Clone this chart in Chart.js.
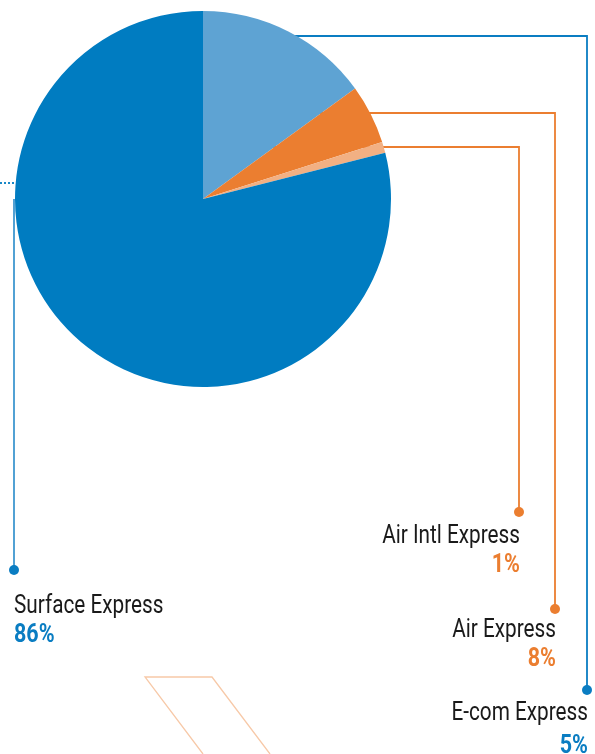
<!DOCTYPE html>
<html>
<head>
<meta charset="utf-8">
<script src="https://cdn.jsdelivr.net/npm/chart.js@4.4.1/dist/chart.umd.min.js"></script>
<style>
  html, body { margin: 0; padding: 0; background: #fff; }
  #chart { display: block; }
</style>
</head>
<body>
<canvas id="chart" width="595" height="754"></canvas>
<script>
// slices clockwise from 12 o'clock
const categories = ["E-com Express", "Air Express", "Air Intl Express", "Surface Express"];
const shares = [15, 5.1, 0.95, 78.95]; // slice sizes as drawn
const shareLabels = ["5%", "8%", "1%", "86%"]; // printed labels
const sliceColors = ["#5ea3d3", "#eb7e30", "#f2b083", "#007cc1"];
const textColors = ["#0a7dc2", "#eb7e30", "#eb7e30", "#0a7dc2"];
const lineColors = ["#0a7dc2", "#eb7e30", "#eb7e30", "#3f97d0"];

const fontName = 'Roboto, "Noto Sans", sans-serif';

// callout placement for each category
const callouts = [
  { lineY: 36, lineX: 587, dotY: 690, textX: 588, align: "right", nameY: 720, pctY: 753 },
  { lineY: 113, lineX: 555, dotY: 609, textX: 556, align: "right", nameY: 637, pctY: 666 },
  { lineY: 147, lineX: 519, dotY: 512, textX: 520, align: "right", nameY: 543, pctY: 572 },
  { lineY: 183, lineX: 14, dotY: 570, textX: 14, align: "left", nameY: 613, pctY: 642 }
];

// narrow the text a bit, the original uses a condensed face
const squeezeText = (ctx, text, x, y, sx) => {
  ctx.save();
  ctx.translate(x, y);
  ctx.scale(sx, 1);
  ctx.fillText(text, 0, 0);
  ctx.restore();
};

const calloutPlugin = {
  id: "callouts",
  beforeDatasetsDraw(chart) {
    const ctx = chart.ctx;
    const arc = chart.getDatasetMeta(0).data[0];
    const cx = arc.x, cy = arc.y;
    ctx.save();
    ctx.lineWidth = 1.8;
    callouts.forEach((c, i) => {
      ctx.strokeStyle = lineColors[i];
      if (c.align === "right") {
        ctx.beginPath();
        ctx.moveTo(cx, c.lineY);
        ctx.lineTo(c.lineX, c.lineY);
        ctx.lineTo(c.lineX, c.dotY);
        ctx.stroke();
      } else {
        // dotted stub from the left edge, then a drop line
        ctx.setLineDash([2, 2]);
        ctx.strokeStyle = sliceColors[i];
        ctx.beginPath();
        ctx.moveTo(0, c.lineY);
        ctx.lineTo(cx, c.lineY);
        ctx.stroke();
        ctx.setLineDash([]);
        ctx.strokeStyle = lineColors[i];
        ctx.beginPath();
        ctx.moveTo(c.lineX, cy);
        ctx.lineTo(c.lineX, c.dotY);
        ctx.stroke();
      }
    });
    ctx.restore();
  },
  afterDatasetsDraw(chart) {
    const ctx = chart.ctx;
    ctx.save();
    // decorative outline at the bottom
    ctx.strokeStyle = "#f7c9a8";
    ctx.lineWidth = 1.3;
    ctx.beginPath();
    ctx.moveTo(203, 754);
    ctx.lineTo(145, 677);
    ctx.lineTo(212, 677);
    ctx.lineTo(270, 754);
    ctx.stroke();

    callouts.forEach((c, i) => {
      ctx.fillStyle = textColors[i];
      ctx.beginPath();
      ctx.arc(c.lineX, c.dotY, 5, 0, Math.PI * 2);
      ctx.fill();

      ctx.textAlign = c.align;
      ctx.textBaseline = "alphabetic";
      ctx.fillStyle = "#1a1a1a";
      ctx.font = "25px " + fontName;
      squeezeText(ctx, categories[i], c.textX, c.nameY, 0.83);
      ctx.fillStyle = textColors[i];
      ctx.font = "bold 25px " + fontName;
      squeezeText(ctx, shareLabels[i], c.textX, c.pctY, 0.86);
    });
    ctx.restore();
  }
};

const ctx = document.querySelector("#chart");
new Chart(ctx, {
  type: "pie",
  data: {
    labels: categories,
    datasets: [{
      data: shares,
      backgroundColor: sliceColors,
      borderWidth: 0
    }]
  },
  options: {
    responsive: false,
    animation: false,
    layout: { padding: { left: 15, right: 204, top: 11, bottom: 367 } },
    plugins: {
      legend: { display: false },
      tooltip: { enabled: false }
    }
  },
  plugins: [calloutPlugin]
});
</script>
</body>
</html>
